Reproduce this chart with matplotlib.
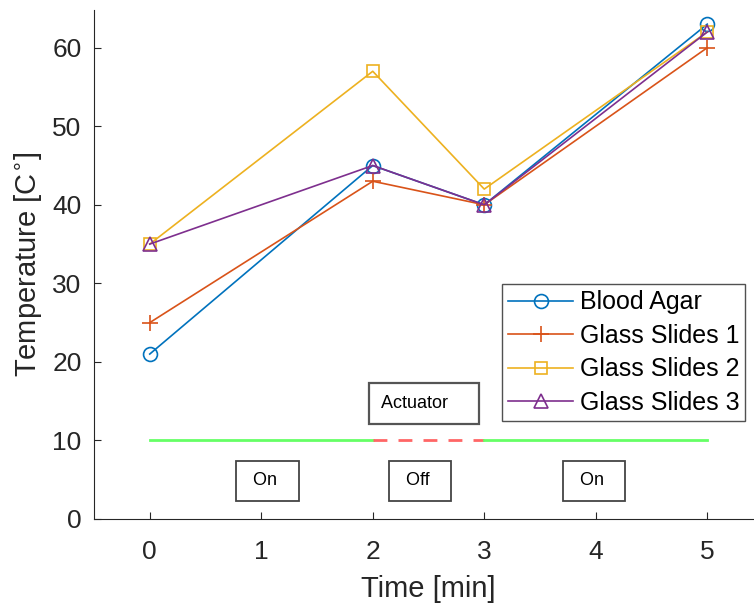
import matplotlib
matplotlib.use("Agg")
from matplotlib import pyplot as plt

plt.rcParams['font.family'] = ['Liberation Sans', 'DejaVu Sans']

# data
time = [0, 2, 3, 5]
blood_agar = [21, 45, 40, 63]
glass_1 = [25, 43, 40, 60]
glass_2 = [35, 57, 42, 62]
glass_3 = [35, 45, 40, 62]
series_names = ["Blood Agar", "Glass Slides 1", "Glass Slides 2", "Glass Slides 3"]
xticks = [0, 1, 2, 3, 4, 5]
yticks = [0, 10, 20, 30, 40, 50, 60]

# actuator state line at temperature 10
act_level = 10
on1 = [0, 2]
off = [2, 3]
on2 = [3, 5]

fig = plt.figure(figsize=(7.54, 6.11), dpi=100)
ax = fig.add_axes([94 / 754, 1 - 519 / 611, (763 - 94) / 754, (519 - 10) / 611])

colors = ['#0072BD', '#D95319', '#EDB120', '#7E2F8E']
markers = ['o', '+', 's', '^']
sizes = [10, 11, 8, 10]
for vals, name, c, m, s in zip([blood_agar, glass_1, glass_2, glass_3], series_names, colors, markers, sizes):
    ax.plot(time, vals, color=c, marker=m, markersize=s, mfc='none', mew=1.2, lw=1.2, label=name)

ax.plot(on1, [act_level] * 2, color='#66FF66', lw=2)
ax.plot(off, [act_level] * 2, color='#FF6666', lw=2, ls=(0, (5, 4)))
ax.plot(on2, [act_level] * 2, color='#66FF66', lw=2)

box = dict(boxstyle='square,pad=0.65', fc='white', ec='#444444', lw=1.3)
ax.text(2.07, 14.7, "Actuator    ", fontsize=13, va='center', ha='left', bbox=dict(boxstyle='square,pad=0.65', fc='white', ec='#555555', lw=1.6))
ax.text(0.88, 4.84, " On  ", fontsize=13, va='center', ha='left', bbox=box)
ax.text(2.25, 4.84, " Off  ", fontsize=13, va='center', ha='left', bbox=box)
ax.text(3.81, 4.84, " On  ", fontsize=13, va='center', ha='left', bbox=box)

ax.set_xlim(-0.5, 5.5)
ax.set_ylim(0, 64.8)
ax.set_xticks(xticks)
ax.set_yticks(yticks)
ax.tick_params(labelsize=19, colors='#262626', direction='in', length=5)
ax.tick_params(axis='x', pad=15)
ax.tick_params(axis='y', pad=9)
ax.spines['top'].set_visible(False)
ax.spines['right'].set_visible(False)
for sp in ['left', 'bottom']:
    ax.spines[sp].set_color('#262626')
ax.set_xlabel("Time [min]", fontsize=21, color='#262626', labelpad=8)
ax.set_ylabel("Temperature [C$^{\\circ}$]", fontsize=21, color='#262626', labelpad=6)

leg = ax.legend(loc='upper left', bbox_to_anchor=((502 - 94) / 669, (519 - 284) / 509), fontsize=18,
                frameon=True, fancybox=False, edgecolor='#262626', handlelength=2.6,
                borderpad=0.25, labelspacing=0.38, handletextpad=0.25, borderaxespad=0)
leg.get_frame().set_linewidth(1.0)

fig.savefig("out.png", dpi=100)
